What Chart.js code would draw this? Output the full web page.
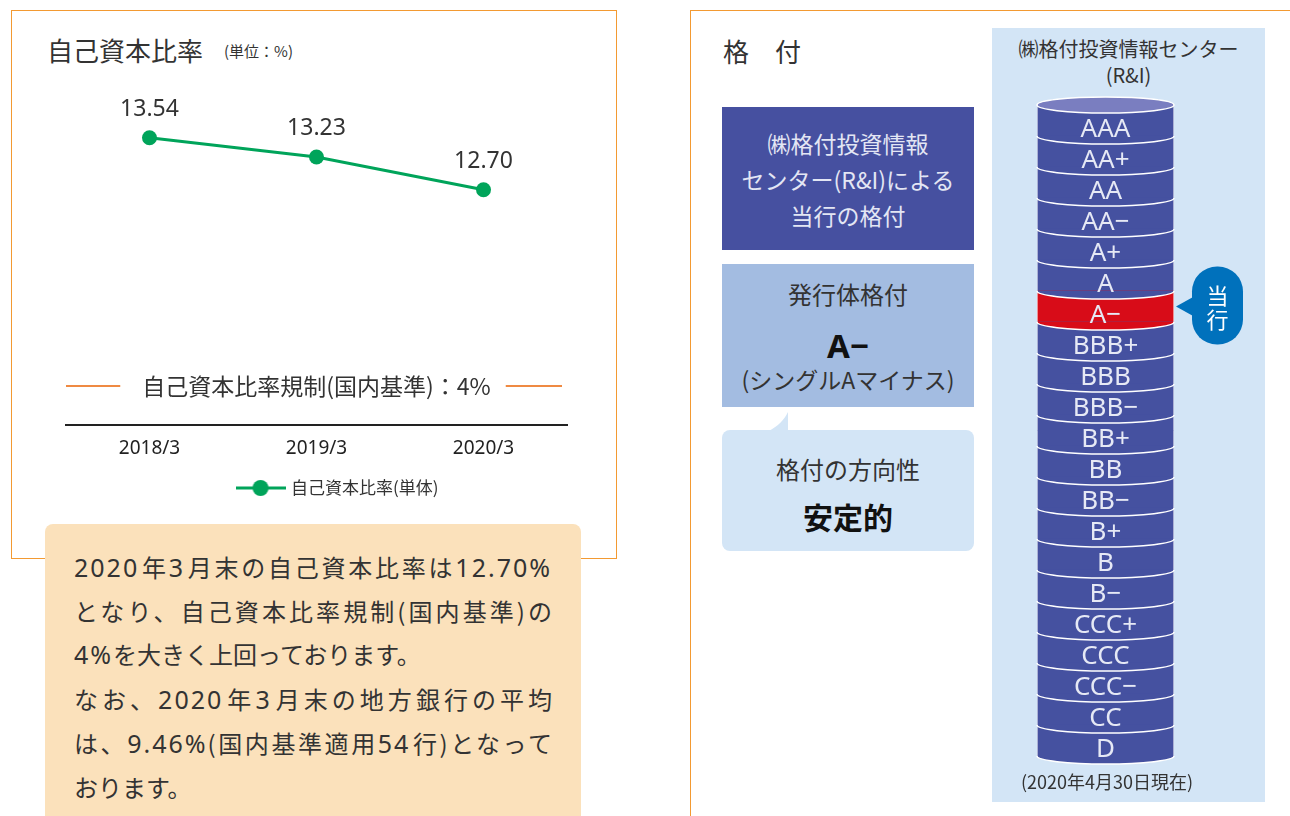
<!DOCTYPE html>
<html lang="ja">
<head>
<meta charset="utf-8">
<script src="https://cdn.jsdelivr.net/npm/chart.js@4.4.1/dist/chart.umd.min.js"></script>
<style>
  body { margin: 0; width: 1290px; height: 816px; overflow: hidden; background: #fff; position: relative;
         font-family: "Noto Sans CJK JP", sans-serif; color: #333; }
  .abs { position: absolute; }
  #leftPanel { left: 11px; top: 10px; width: 606px; height: 549px; border: 1.5px solid #f39a32; box-sizing: border-box; }
  #rightPanel { left: 690px; top: 10px; width: 700px; height: 900px; border: 1.5px solid #f39a32; box-sizing: border-box; }
  .title { font-size: 26px; line-height: 1; color: #333; }
  .unit { font-size: 15px; }
  #note { left: 45px; top: 524px; width: 536px; height: 320px; background: #fbe1bb; border-radius: 8px;
          box-sizing: border-box; padding: 21px 29px 0 29px; font-size: 24px; line-height: 43.2px; color: #333; }
  #note .j { text-align: justify; text-align-last: justify; }
  #note .n { font-family: "Noto Sans", sans-serif; font-size: 25px; letter-spacing: 2px; }
  .box { left: 722px; width: 252px; text-align: center; }
  .line { position: absolute; left: 0; right: 0; }
  #ri { left: 992px; top: 28px; width: 273px; height: 774px; background: #d3e5f6; }
</style>
</head>
<body>
<div id="leftPanel" class="abs"></div>
<div id="rightPanel" class="abs"></div>

<div class="abs title" style="left:47px; top:37px;">自己資本比率<span class="unit" style="margin-left:21px; vertical-align:4px;">(単位：%)</span></div>

<canvas id="ratioChart" class="abs" width="605" height="440" style="left:11px; top:70px; width:605px; height:440px;"></canvas>

<div id="note" class="abs">
  <div class="j"><span class="n">2020</span>年<span class="n">3</span>月末の自己資本比率は<span class="n">12.70%</span></div>
  <div class="j">となり、自己資本比率規制(国内基準)の</div>
  <div><span class="n">4%</span>を大きく上回っております。</div>
  <div class="j">なお、<span class="n">2020</span>年<span class="n">3</span>月末の地方銀行の平均</div>
  <div class="j">は、<span class="n">9.46%</span>(国内基準適用<span class="n">54</span>行)となって</div>
  <div>おります。</div>
</div>

<div class="abs title" style="left:723px; top:38px;">格　付</div>

<div class="abs box" style="top:107px; height:143px; background:#4650a0; color:#e3e6f4; font-size:23px; line-height:36px; display:flex; flex-direction:column; justify-content:center;">
  <div>㈱格付投資情報</div><div>センター(R&amp;I)による</div><div>当行の格付</div>
</div>

<div class="abs box" style="top:264px; height:143px; background:#a3bce1;">
  <div class="line" style="top:14px; font-size:24px; line-height:32px;">発行体格付</div>
  <div class="line" style="top:62px; font-size:33px; font-weight:bold; line-height:40px; color:#111; font-family:'Noto Sans', sans-serif;">A−</div>
  <div class="line" style="top:100px; font-size:23px; line-height:30px;">(シングルAマイナス)</div>
</div>

<svg class="abs" style="left:760px; top:408px;" width="40" height="26">
  <path d="M9 23 C 18 18, 24 12, 28 4 L 28 23 Z" fill="#d3e5f6"/>
</svg>
<div class="abs box" style="top:430px; height:121px; background:#d3e5f6; border-radius:8px;">
  <div class="line" style="top:23px; font-size:24px; line-height:32px;">格付の方向性</div>
  <div class="line" style="top:66px; font-size:30px; font-weight:bold; line-height:40px; color:#111;">安定的</div>
</div>

<div id="ri" class="abs"></div>
<div class="abs" style="left:992px; width:273px; top:36px; text-align:center; font-size:20px; line-height:26px; color:#333;">㈱格付投資情報センター<br>(R&amp;I)</div>
<canvas id="ratingChart" class="abs" width="273" height="690" style="left:992px; top:85px; width:273px; height:690px;"></canvas>
<div class="abs" style="left:992px; width:230px; top:769px; text-align:center; font-size:18px; line-height:24px; color:#333;">(2020年4月30日現在)</div>

<script>
const years = ['2018/3', '2019/3', '2020/3'];
const capitalRatio = [13.54, 13.23, 12.70];
const regulationRatio = 4;

const ratings = ['AAA', 'AA+', 'AA', 'AA−', 'A+', 'A', 'A−', 'BBB+', 'BBB', 'BBB−', 'BB+',
  'BB', 'BB−', 'B+', 'B', 'B−', 'CCC+', 'CCC', 'CCC−', 'CC', 'D'];
const ratingCells = [1, 1, 1, 1, 1, 1, 1, 1, 1, 1, 1, 1, 1, 1, 1, 1, 1, 1, 1, 1, 1];
const currentRating = 'A−';

const GREEN = '#00a45a';
const ORANGE = '#ef8a43';
const BLUE = '#4551a0';
const RED = '#d80c18';

// legend icon: line with a dot
const legendIcon = document.createElement('canvas');
legendIcon.width = 50;
legendIcon.height = 18;
(function () {
  const c = legendIcon.getContext('2d');
  c.strokeStyle = GREEN;
  c.lineWidth = 3;
  c.beginPath();
  c.moveTo(0, 9);
  c.lineTo(50, 9);
  c.stroke();
  c.fillStyle = GREEN;
  c.beginPath();
  c.arc(25, 9, 8, 0, Math.PI * 2);
  c.fill();
})();

const ratioLabels = {
  id: 'ratioLabels',
  afterLayout(chart) {
    // legend sits a little right of centre in the original
    chart.legend.left += 22;
    chart.legend.right += 22;
  },
  afterDatasetsDraw(chart) {
    const { ctx, chartArea } = chart;
    const meta = chart.getDatasetMeta(0);
    ctx.save();
    ctx.fillStyle = '#333';
    ctx.textAlign = 'center';
    ctx.textBaseline = 'middle';
    ctx.font = '23px "Noto Sans", sans-serif';
    meta.data.forEach((pt, i) => {
      ctx.fillText(capitalRatio[i].toFixed(2), pt.x, pt.y - 28);
    });

    // regulation line (axis is broken, so it sits just above the x axis)
    const y = chartArea.bottom - 39;
    const label = '自己資本比率規制(国内基準)：' + regulationRatio + '%';
    ctx.font = '23px "Noto Sans CJK JP", sans-serif';
    const w = ctx.measureText(label).width;
    const cx = (chartArea.left + chartArea.right) / 2;
    ctx.fillText(label, cx, y);
    ctx.strokeStyle = ORANGE;
    ctx.lineWidth = 2;
    ctx.beginPath();
    ctx.moveTo(chartArea.left, y);
    ctx.lineTo(cx - w / 2 - 22, y);
    ctx.moveTo(cx + w / 2 + 15, y);
    ctx.lineTo(chartArea.right - 5, y);
    ctx.stroke();
    ctx.restore();
  }
};

new Chart(document.getElementById('ratioChart'), {
  type: 'line',
  data: {
    labels: years,
    datasets: [
      {
        label: '自己資本比率(単体)',
        data: capitalRatio,
        borderColor: GREEN,
        backgroundColor: GREEN,
        borderWidth: 3,
        pointRadius: 7.5,
        pointBackgroundColor: GREEN,
        pointBorderWidth: 0,
        pointStyle: 'circle'
      }
    ]
  },
  options: {
    responsive: false,
    animation: false,
    events: [],
    layout: {
      padding: { left: 55, right: 49, top: 30, bottom: 3.5 }
    },
    scales: {
      x: {
        offset: true,
        grid: { display: false },
        border: { display: true, color: '#222', width: 2 },
        ticks: {
          color: '#222',
          padding: 4,
          font: { size: 19, family: '"Noto Sans", sans-serif' }
        },
        afterFit(scale) {
          scale.height = 46.5;
        }
      },
      y: {
        display: false,
        min: 8.9,
        max: 14.15
      }
    },
    plugins: {
      legend: {
        position: 'bottom',
        labels: {
          usePointStyle: true,
          pointStyle: legendIcon,
          pointStyleWidth: 44,
          color: '#333',
          padding: 8,
          font: { size: 17, family: '"Noto Sans CJK JP", sans-serif' }
        }
      },
      tooltip: { enabled: false }
    }
  },
  plugins: [ratioLabels]
});

const cylinder = {
  id: 'cylinder',
  afterDatasetsDraw(chart) {
    const { ctx } = chart;
    const meta = chart.getDatasetMeta(0);
    const colors = chart.data.datasets[0].backgroundColor;
    const ry = 8;
    ctx.save();
    const bars = meta.data;
    const first = bars[0];
    const last = bars[bars.length - 1];
    const left = Math.min(first.base, first.x);
    const right = Math.max(first.base, first.x);
    const cx = (left + right) / 2;
    const rx = (right - left) / 2;

    // curved bottoms of each band
    bars.forEach((bar, i) => {
      const bottom = bar.y + bar.height / 2;
      ctx.fillStyle = colors[i];
      ctx.beginPath();
      ctx.ellipse(cx, bottom, rx, ry, 0, 0, Math.PI);
      ctx.fill();
    });
    ctx.strokeStyle = '#ffffff';
    ctx.lineWidth = 1.5;
    bars.forEach((bar) => {
      const bottom = bar.y + bar.height / 2;
      ctx.beginPath();
      ctx.ellipse(cx, bottom, rx, ry, 0, 0, Math.PI);
      ctx.stroke();
    });

    // faint side edges
    const top = first.y - first.height / 2;
    const base = last.y + last.height / 2;
    ctx.strokeStyle = 'rgba(255,255,255,0.55)';
    ctx.lineWidth = 1;
    ctx.beginPath();
    ctx.moveTo(left + 0.5, top);
    ctx.lineTo(left + 0.5, base);
    ctx.moveTo(right - 0.5, top);
    ctx.lineTo(right - 0.5, base);
    ctx.stroke();

    // top face
    ctx.strokeStyle = '#ffffff';
    ctx.lineWidth = 1.5;
    ctx.fillStyle = '#7a7ec0';
    ctx.beginPath();
    ctx.ellipse(cx, top, rx, ry, 0, 0, Math.PI * 2);
    ctx.fill();
    ctx.stroke();

    // labels
    ctx.fillStyle = '#e6e9f5';
    ctx.textAlign = 'center';
    ctx.textBaseline = 'middle';
    ctx.font = '26px "Noto Sans", sans-serif';
    bars.forEach((bar, i) => {
      ctx.fillText(ratings[i], cx, bar.y + ry + 1);
    });

    // "当行" marker
    const cur = bars[ratings.indexOf(currentRating)];
    const bx = right + 18, bw = 51, bh = 78, by = cur.y - bh / 2 - 1;
    ctx.fillStyle = '#0071bc';
    ctx.beginPath();
    ctx.moveTo(right + 2, cur.y);
    ctx.lineTo(bx + 2, cur.y - 10);
    ctx.lineTo(bx + 2, cur.y + 10);
    ctx.closePath();
    ctx.fill();
    ctx.beginPath();
    ctx.roundRect(bx, by, bw, bh, 25);
    ctx.fill();
    ctx.fillStyle = '#ffffff';
    ctx.font = '22px "Noto Sans CJK JP", sans-serif';
    ctx.fillText('当', bx + bw / 2, by + 29);
    ctx.fillText('行', bx + bw / 2, by + 53);
    ctx.restore();
  }
};

new Chart(document.getElementById('ratingChart'), {
  type: 'bar',
  data: {
    labels: ratings,
    datasets: [
      {
        data: ratingCells,
        backgroundColor: ratings.map(r => (r === currentRating ? RED : BLUE)),
        borderWidth: 0,
        barPercentage: 1,
        categoryPercentage: 1
      }
    ]
  },
  options: {
    indexAxis: 'y',
    responsive: false,
    animation: false,
    events: [],
    layout: {
      padding: { left: 45, right: 91, top: 20, bottom: 19 }
    },
    scales: {
      x: { display: false, min: 0, max: 1 },
      y: { display: false }
    },
    plugins: {
      legend: { display: false },
      tooltip: { enabled: false }
    }
  },
  plugins: [cylinder]
});
</script>
</body>
</html>
